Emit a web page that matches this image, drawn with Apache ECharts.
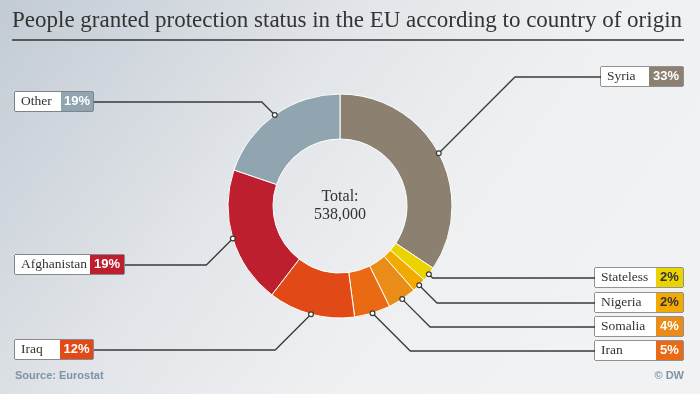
<!DOCTYPE html>
<html><head><meta charset="utf-8">
<script src="https://cdn.jsdelivr.net/npm/echarts@6/dist/echarts.min.js"></script>
<style>html,body{margin:0;padding:0;}#c{width:700px;height:394px;}</style>
</head><body><div id="c"></div>
<script>
// ---- data ----
const categories = ['Syria','Stateless','Nigeria','Somalia','Iran','Iraq','Afghanistan','Other'];
const shares = [33,2,2,4,5,12,19,19];
const pctLabels = ['33%','2%','2%','4%','5%','12%','19%','19%'];
const totalLabel = ['Total:','538,000'];
const titleText = 'People granted protection status in the EU according to country of origin';
const sourceText = 'Source: Eurostat';
const creditText = '© DW';

// ---- styles / layout ----
const colors = ['#8c8171','#ebd300','#f2aa00','#ea8c18','#ea6a14','#e14a16','#bd1f2e','#91a5b1'];
const pctTextColors = ['#fff','#333','#333','#fff','#fff','#fff','#fff','#fff'];
const boxLayout = [
  {side:'right', x:684, y:77,  nameW:48, pctW:34},
  {side:'right', x:684, y:278, nameW:61, pctW:27},
  {side:'right', x:684, y:303, nameW:61, pctW:27},
  {side:'right', x:684, y:327, nameW:61, pctW:27},
  {side:'right', x:684, y:351, nameW:61, pctW:27},
  {side:'left',  x:15,  y:350, nameW:45, pctW:33},
  {side:'left',  x:15,  y:265, nameW:75, pctW:34},
  {side:'left',  x:15,  y:102, nameW:46, pctW:32}
];
const CX = 340, CY = 206, R_IN = 67, R_OUT = 112;
const serif = '"Liberation Serif", "DejaVu Serif", serif';
const sans = '"Liberation Sans", Arial, sans-serif';

// fit title into the width of the rule below it
const TITLE_W = 672;
const ctx = document.createElement('canvas').getContext('2d');
ctx.font = '24px ' + serif;
const titleSize = Math.min(24, Math.floor(24 * TITLE_W / ctx.measureText(titleText).width * 10) / 10);

const rich = {};
categories.forEach((c, i) => {
  rich['n' + i] = {fontFamily: serif, fontSize: 13.5, color: '#333', backgroundColor: '#fff',
    width: boxLayout[i].nameW - 6, height: 19, lineHeight: 19, padding: [0, 0, 0, 6], align: 'left'};
  rich['p' + i] = {fontFamily: sans, fontSize: 13, fontWeight: 'bold', color: pctTextColors[i],
    backgroundColor: colors[i], width: boxLayout[i].pctW, height: 19, lineHeight: 19, align: 'center'};
});

const data = categories.map((c, i) => ({name: c, value: shares[i], itemStyle: {color: colors[i]}}));

// circles at label line starts (computed from data, mid-angle on outer edge)
const sum = shares.reduce((a, b) => a + b, 0);
let acc = 0;
const dots = shares.map(v => {
  const mid = (acc + v / 2) / sum * Math.PI * 2; acc += v;
  return {type: 'circle', shape: {cx: CX + R_OUT * Math.sin(mid), cy: CY - R_OUT * Math.cos(mid), r: 2.4},
    style: {fill: '#fff', stroke: '#3a3a3a', lineWidth: 1.2}, z: 100};
});

const chart = echarts.init(document.getElementById('c'), null, {renderer: 'canvas'});
chart.setOption({
  animation: false,
  backgroundColor: {type: 'linear', x: 0, y: 0, x2: 0.75, y2: 1,
    colorStops: [{offset: 0, color: '#c2cbd4'}, {offset: 0.45, color: '#e2e5e9'}, {offset: 0.75, color: '#eff0f2'}, {offset: 1, color: '#f1f2f4'}]},
  title: {text: titleText, left: 12, top: 9, padding: 0,
    textStyle: {fontFamily: serif, fontSize: titleSize, fontWeight: 'normal', color: '#333'}},
  graphic: [
    {type: 'line', shape: {x1: 12, y1: 40, x2: 684, y2: 40}, style: {stroke: '#333', lineWidth: 1.5}},
    {type: 'text', x: CX, y: CY, style: {text: totalLabel.join('\n'), align: 'center', verticalAlign: 'middle',
      font: '16px ' + serif, fill: '#333', lineHeight: 18}},
    {type: 'text', x: 15, y: 376, style: {text: sourceText, verticalAlign: 'middle',
      font: 'bold 11px ' + sans, fill: '#7d93a6'}},
    {type: 'text', x: 684, y: 376, style: {text: creditText, align: 'right', verticalAlign: 'middle',
      font: 'bold 11px ' + sans, fill: '#7d93a6'}}
  ].concat(dots),
  series: [{
    type: 'pie',
    center: [CX, CY],
    radius: [R_IN, R_OUT],
    startAngle: 90,
    clockwise: true,
    avoidLabelOverlap: false,
    emphasis: {disabled: true},
    itemStyle: {borderColor: '#fff', borderWidth: 1},
    data: data,
    label: {
      show: true, position: 'outside',
      formatter: p => '{n' + p.dataIndex + '|' + p.name + '}{p' + p.dataIndex + '|' + pctLabels[p.dataIndex] + '}',
      rich: rich, borderColor: '#333', borderWidth: 1, padding: 0
    },
    labelLine: {show: true, length: 10, length2: 10, lineStyle: {color: '#3a3a3a', width: 1.3}},
    labelLayout: function (params) {
      const i = params.dataIndex, b = boxLayout[i];
      const w = params.labelRect.width, h = params.labelRect.height;
      const p0 = params.labelLinePoints[0];
      const dir = b.side === 'left' ? -1 : 1;
      const dy = b.y - p0[1];
      const elbow = [p0[0] + dir * Math.abs(dy), b.y];
      const endX = b.side === 'left' ? b.x + w : b.x - w;
      return {x: b.side === 'left' ? b.x : b.x - w, y: b.y - h / 2, align: 'left', verticalAlign: 'top',
        labelLinePoints: [p0, elbow, [endX, b.y]]};
    }
  }]
});
</script></body></html>
